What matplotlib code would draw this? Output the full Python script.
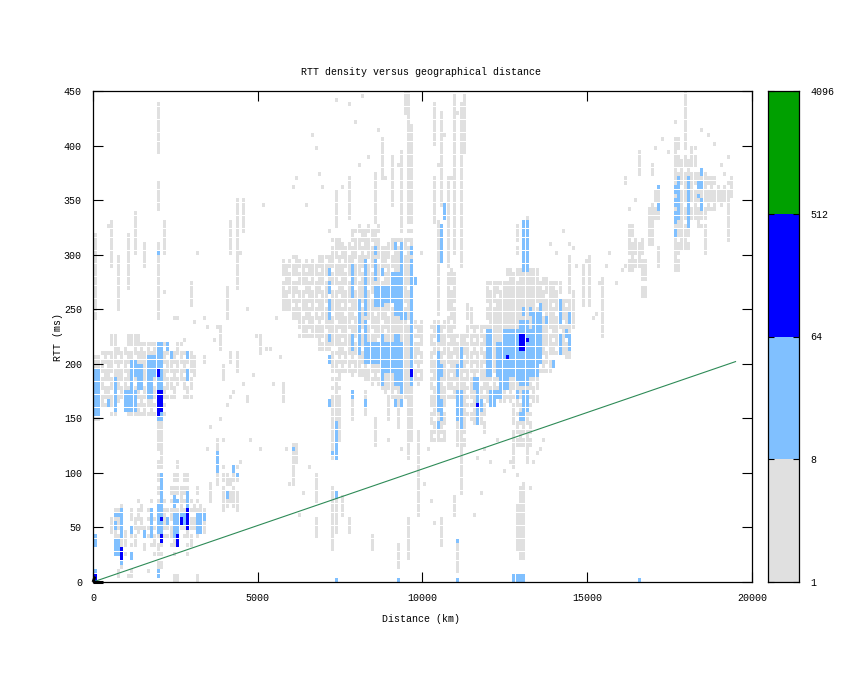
import matplotlib
matplotlib.use("Agg")
import matplotlib.pyplot as plt
import numpy as np
from matplotlib.collections import PolyCollection

plt.rcParams['font.family'] = ['Liberation Mono', 'DejaVu Sans Mono']
plt.rcParams['font.size'] = 7.2

TITLE = "RTT density versus geographical distance"
XLABEL = "Distance (km)"
YLABEL = "RTT (ms)"
X_TICKS = [0, 5000, 10000, 15000, 20000]
Y_TICKS = list(range(0, 451, 50))
BAR_TICKS = [1, 8, 64, 512, 4096]
BIN_KM = 100
BIN_MS = 4
MIN_LINE_KM = [0, 19500]
MIN_LINE_MS = [0, 202]

# (km from, km to, ms from, ms to) density regions
gray_blocks = [
    # near-range cluster, 150-230 ms
    (0,200,150,205),(200,500,160,210),(500,700,155,225),(700,1000,165,215),(1000,1400,152,228),
    (1400,2200,155,218),(2200,2500,170,210),(2500,2700,180,220),(2700,3000,170,210),(3000,3100,190,205),
    (3300,3400,200,208),(3900,4000,185,200),(4100,4200,200,212),(4300,4400,195,212),(4600,4700,165,172),
    # low-RTT cluster, column by column
    (500,600,45,60),(600,700,35,70),(700,800,20,65),(800,900,15,70),(900,1000,25,45),(1100,1200,25,65),(1200,1300,35,60),
    (1300,1400,45,75),(1400,1500,50,70),(1500,1600,30,55),(1600,1700,40,65),(1700,1800,30,75),(1800,1900,25,60),
    (1900,2000,10,115),(2000,2100,15,120),(2100,2200,40,80),(2200,2300,40,65),(2300,2400,35,90),(2400,2500,25,100),
    (2500,2600,30,110),(2600,2700,50,85),(2700,2800,40,100),(2800,2900,25,100),(2900,3000,35,80),(3000,3100,50,70),
    (3100,3200,40,85),(3200,3300,45,70),(3300,3400,45,70),(1950,2050,120,150),(3700,3800,90,130),(3900,4000,65,105),
    (4000,4100,70,100),(4100,4200,75,95),(4200,4300,70,100),(4300,4400,65,105),(3500,3600,72,90),(6000,6100,90,125),
    (6700,6800,75,100),(2400,2500,0,8),(2500,2600,0,5),(3100,3200,0,6),(1100,1200,5,12),(700,800,5,10),
    # mid-range cluster
    (5700,6000,250,295),(6000,6200,240,300),(6200,6800,225,295),(6800,7200,215,300),(7200,7500,175,315),(7500,7800,195,310),
    (7800,8200,190,325),(8200,8700,180,325),(8700,9000,175,310),(9000,9700,170,315),(9700,10000,180,240),
    (7200,7300,115,170),(7300,7400,120,170),(7400,7500,130,185),(7800,7900,150,170),(8200,8300,155,175),(8500,8600,125,150),
    (8900,9000,150,170),(9200,9300,140,172),(9500,9600,115,175),(9600,9700,130,175),(9800,9900,60,140),
    (6700,6800,40,60),(7200,7300,30,85),(7300,7400,45,80),(7500,7600,60,78),(7700,7800,45,58),(9500,9600,20,60),
    (9200,9300,15,35),(8400,8500,30,42),(10500,10600,35,60),
    # far-range cluster
    (10200,10700,130,240),(10700,11000,165,285),(11000,11300,125,225),(11300,11500,150,255),(11500,11900,145,235),
    (11900,12500,165,275),(12500,13500,165,285),(13500,13900,195,280),(13900,14200,210,275),(14200,14500,205,260),
    (12700,13300,125,165),(11100,11200,80,125),(10900,11000,60,80),(11800,11900,135,150),(12900,13100,20,85),
    (12700,12800,105,125),(13100,13200,110,125),(11000,11100,10,35),(12800,12900,30,70),
    (10400,10500,245,330),(10300,10400,330,370),(10500,10600,345,430),(10700,10800,290,370),(10900,11000,300,445),
    (11100,11200,290,440),(11200,11300,395,445),(9500,9600,320,450),(9600,9700,320,420),(9300,9400,320,395),(9000,9100,345,390),
    (8500,8600,330,375),(8700,8800,370,405),(9400,9500,430,450),(10300,10400,400,440),(7700,7800,335,370),
    (7300,7400,325,360),(13100,13200,285,335),(12800,12900,300,325),(14400,14500,265,300),(14500,14600,235,265),
    # long-range cluster
    (15000,15100,255,300),(15400,15500,225,280),(14800,14900,255,290),(16200,16400,285,325),(16400,16700,290,315),
    (16600,16800,260,295),(16800,17000,310,345),(17000,17200,335,360),(17600,17800,285,405),(17800,18100,305,385),
    (18100,18300,330,400),(18300,18600,325,375),(18600,18900,340,370),(18900,19200,345,362),(19200,19300,315,368),
    (19300,19400,355,368),(17100,17200,290,305),(17900,18000,385,450),(18500,18600,300,322),(16500,16600,375,395),
    (16100,16200,365,372),(16900,17000,375,383),
    # lone upper columns
    (0,100,240,320),(1900,2000,395,440),(1900,2000,340,365),(1900,2000,240,310),(500,600,290,330),
    (700,800,250,300),(1000,1100,270,320),(1200,1300,300,340),(4100,4200,300,330),(4300,4400,270,350),
    (4500,4600,320,350),(4000,4100,240,270),(3800,3900,215,235),(2100,2200,300,330),(1500,1600,290,310),
    (2900,3000,255,275),(5700,5800,165,180),(5000,5100,210,225),(6100,6200,110,125),
]

# blank cells: (ms, [km/100 ...]) rows
hole_rows = [
    (324,[78,79,81,82,84,85,87,88,90,91,92,94,95,96]),(316,[75,76,79,80,83,86,87,89,91,93,96]),(308,[64,66,69,70,72,76,78,81,84,87,88,92,95,105,128]),
    (300,[61,63,66,68,71,74,77,80,82,85,90,94,97,125,127,131,133,135,138]),(292,[58,60,63,65,67,70,73,75,79,83,86,89,120,122,124,126,129,134,137,140]),
    (284,[59,62,64,68,71,72,76,78,81,84,88,90,107,109,118,121,123,127,136,139,141]),(276,[57,60,61,65,67,70,74,77,80,87,92,119,125,128,135,138,142]),
    (268,[58,62,63,66,69,72,73,76,79,83,88,95,108,112,116,120,123,136,140,143]),(260,[59,61,64,68,71,74,78,84,91,96,110,113,115,118,122,137,141]),
    (252,[60,62,65,67,70,75,77,81,86,90,94,106,109,111,114,119,121,134,139,143]),(244,[63,66,68,72,76,79,82,85,89,97,99,103,107,112,116,118,136,140,144]),
    (236,[64,67,69,73,78,83,87,95,98,102,105,108,113,115,117,119,137,142]),(228,[62,65,70,74,77,81,84,88,97,100,102,106,109,114,116,118,120,138,141]),
    (220,[69,71,75,79,80,86,92,97,98,101,103,107,110,113,115,117,119,139,143]),(212,[72,73,76,78,81,85,89,99,102,105,108,111,114,116,118,135,137,140]),
    (204,[73,75,77,79,82,84,98,100,103,106,109,112,115,117,119,136,138,141,142]),(196,[74,76,78,81,83,87,97,99,101,104,107,110,113,115,118,135,137]),
    (188,[72,73,75,77,79,84,86,98,102,105,108,112,114,116,119,121,134,135]),(180,[72,74,76,77,78,80,82,83,85,97,99,103,106,109,113,115,117,120,122,131,133]),
    (172,[72,74,75,77,78,79,81,84,86,87,89,91,93,99,102,107,108,113,116,118,120,123,125,127,132,134]),(164,[107,108,109,113,114,116,118,120,122,125,127,129,132]),
    (156,[102,106,108,113,114,116,119,121,124,126,128,132]),(148,[103,105,107,109,113,116,118,120,122,124,126,128,130,132]),(140,[102,104,106,109,113,117,119,121,123,125,127,129,131]),
    (132,[103,105,107,109,112,114,116,118,120,122,124,126,128,130,132]),
    (212,[3,5,8,10,11,13,15,17,19,21,24,26,28,29]),(204,[2,4,7,9,12,16,18,22,23,25,27]),(196,[3,6,8,10,14,17,20,21,24,26,28]),(188,[2,5,9,13,16,19,22,23,25,27,29]),
    (180,[3,4,8,10,12,15,18,21,24,26,28]),(172,[2,5,7,9,11,14,17,20,22,23,25,27,29]),(164,[3,4,6,8,10,13,15,18,21,22,24]),(156,[2,3,5,7,8,9,10,14,16,18,21]),
    (68,[6,13,17,19,21,23,25,27,29,31,33]),(60,[5,7,12,14,16,18,22,24,27,29,30,32]),(52,[6,11,13,15,16,18,20,23,26,31]),(44,[7,11,12,16,18,19,21,22,24,27,29,31]),
    (36,[6,7,11,15,17,19,20,23,25,28]),(28,[8,9,11,12,17,18,20,24,25,28]),(20,[7,9,11,19,20,24]),(76,[19,21,23,24,25,27,28,29,31]),(88,[19,20,23,24,25,27,28,39,42,43]),
    (100,[19,20,23,24,25,27,28,37,39,40,43]),(112,[19,37]),(84,[40,41,43]),(360,[178,180,182,184,186,188,190,192]),(344,[177,179,181,183,185,187,189,191,168,170]),
    (328,[176,179,181,182,184,185]),(376,[177,179,181,182,184]),(392,[177,179,180,182]),(312,[163,165,167,177,180]),(296,[162,164,166,177,179]),(272,[166,167]),
]

# lone gray cells (km/100, ms)
lone_km = [4,12,25,30,34,44,46,52,54,55,58,60,61,64,66,67,68,73,75,77,79,81,83,86,88,92,94,99,100,101,102,103,
           104,106,108,110,112,114,116,118,120,122,124,126,128,130,132,134,136,144,146,148,150,152,154,155,156,158,160,161,162,164,
           170,172,174,176,184,186,188,190,191,192,193,33,36,37,38,40,41,42,45,47,48,49,50,53,56,57,59,62,63,65,
           10,16,21,24,27,31,34,35,39,44,51,69,71,80,85,89,93,98,109,115,117,133,135,138,140,142,145,149,151,153]
lone_ms = [325,310,240,238,232,300,250,215,180,240,120,362,370,345,410,396,372,440,360,438,420,444,390,412,368,380,440,300,90,120,
           75,52,380,410,368,430,416,160,112,120,110,130,100,108,98,90,84,118,130,310,290,288,260,246,270,290,300,275,285,290,340,350,
           398,405,392,420,415,410,400,382,372,390,368,240,220,235,150,160,170,175,182,130,190,225,120,215,205,180,90,60,80,105,
           5,10,265,240,220,300,120,140,130,110,345,360,320,380,345,130,120,100,70,60,80,110,120,310,300,320,305,295,240,275,270,330]

light_blue_blocks = [
    (0,200,153,195),(100,200,175,182),(400,500,160,168),(600,700,158,187),(900,1300,158,176),(1100,1300,190,203),
    (1100,1200,176,187),(1300,1500,176,197),(1600,1900,191,205),(1600,1800,170,185),(1900,2100,150,218),(2800,2900,205,210),
    (2800,2900,187,195),(2300,2400,205,210),(2200,2300,214,218),(1900,2000,300,304),
    (800,900,63,68),(600,900,60,63),(800,900,42,60),(600,700,50,54),(600,800,26,38),(800,900,17,23),(1100,1200,45,49),
    (1100,1200,22,26),(0,100,33,42),(1700,1800,42,68),(1500,1600,42,48),(1900,2100,45,72),(2000,2100,72,100),(1900,2000,5,10),
    (2400,2500,70,80),(2500,2600,72,76),(2400,2600,42,63),(2600,2900,53,63),(2800,2900,48,83),(3100,3300,45,63),(3300,3400,57,63),
    (2200,2300,53,60),(3700,3800,101,119),(4200,4300,103,107),(4300,4400,97,100),(4000,4100,78,82),(6000,6100,120,124),
    (7200,7300,116,120),(7300,7400,115,148),(7300,7400,78,82),(0,100,5,12),
    (7100,7200,283,287),(7100,7200,266,275),(7100,7200,242,260),(7100,7200,221,225),(7100,7200,202,206),(7100,7200,160,167),
    (7800,7900,283,290),(7800,7900,262,278),(7800,7900,212,225),(7800,7900,170,174),(8000,8100,220,260),(8000,8100,210,218),
    (8200,8300,275,293),(8200,8300,245,272),(8200,8300,222,238),(8200,8500,200,218),(8200,8300,160,167),(8500,8600,277,293),
    (8500,8800,252,272),(8500,8800,200,217),(8500,8600,300,305),(8700,8800,283,287),(8700,8800,217,225),(8800,9400,192,218),
    (8700,8800,182,197),(9100,9400,180,191),(9300,9400,174,180),(9100,9400,246,272),(9100,9400,274,281),(9300,9400,283,301),
    (9100,9200,306,310),(9300,9400,306,310),(9300,9500,240,246),(9100,9300,220,225),(8850,9100,257,269),(9000,9100,274,284),
    (9600,9700,192,293),(9600,9700,303,307),(9700,9800,274,278),(9600,9700,180,190),(9300,9400,160,165),(9100,9200,163,167),
    (14100,14200,251,260),(14100,14200,237,248),(14100,14200,211,226),(14400,14500,237,245),(14300,14400,227,231),(14400,14500,223,227),
    (14400,14500,214,218),(13900,14000,198,202),(13700,13800,239,243),(13500,13600,246,254),(13300,13550,231,246),(12900,13150,231,238),
    (13000,13100,247,251),(13200,13300,245,249),(12400,13550,200,229),(11900,12100,191,229),(12200,12550,188,219),(12600,13450,191,209),
    (12900,13200,182,191),(12300,12550,179,188),(12800,12900,184,188),(11500,11700,179,188),(11600,11700,171,179),(13000,13150,156,174),
    (12900,13050,150,156),(12800,12900,171,175),(12300,12400,168,176),(12000,12150,162,176),(12200,12300,168,174),(11600,11800,156,168),
    (11600,11700,147,156),(11100,11200,199,214),(11000,11100,190,197),(11000,11200,148,176),(11100,11200,140,145),(10400,10500,230,234),
    (10400,10500,223,227),(10400,10500,191,209),(10500,10600,190,197),(10400,10500,156,188),(10500,10600,158,165),(10500,10600,151,155),
    (10400,10500,143,147),(10500,10600,295,327),(10600,10700,332,345),(13000,13200,284,331),
    (11000,11100,0,4),(11000,11100,36,40),(12700,13100,0,5),(7300,7400,0,3),(9200,9300,0,4),(16500,16600,0,3),
    (17100,17200,360,364),(17100,17200,342,347),(17600,17700,357,361),(17600,17700,345,349),(17600,17700,330,338),(17600,17700,317,321),
    (17700,17800,358,371),(17700,17800,338,356),(17700,17800,332,336),(18000,18100,367,371),(18000,18100,336,364),(18000,18100,327,335),
    (18300,18400,361,366),(18300,18400,352,356),(18400,18500,374,378),(18400,18500,363,367),(18400,18500,345,350),(18400,18500,341,345),
]

blue_blocks = [
    (0,100,0,5),(800,900,23,32),(1900,2000,190,195),(1900,2100,158,175),(1900,2000,153,156),(2000,2100,57,60),(2000,2100,39,44),
    (2500,2600,35,41),(2800,2900,48,66),(2600,2700,55,58),(9600,9700,190,195),(12900,13050,220,228),(13050,13150,220,224),
    (12900,13050,215,219),(12500,12600,204,208),(11600,11700,160,164),
]

level_colors = ['#e0e0e0', '#80c0ff', '#0000ff', '#00a000']
bar_colors = level_colors

n_cols, n_rows = int(20000 / BIN_KM), int(450 / BIN_MS) + 1
grid = np.zeros((n_rows, n_cols), dtype=int)


def paint(blocks, level):
    for d0, d1, r0, r1 in blocks:
        c0, c1 = int(d0 // BIN_KM), int(np.ceil(d1 / BIN_KM))
        j0, j1 = int(r0 // BIN_MS), max(int(np.ceil(r1 / BIN_MS)), int(r0 // BIN_MS) + 1)
        grid[j0:j1, c0:c1] = level


paint(gray_blocks, 1)
for ms, cols_ in hole_rows:
    for c in cols_:
        grid[ms // BIN_MS, c] = 0
for c, ms in zip(lone_km, lone_ms):
    grid[ms // BIN_MS, c] = 1
paint(light_blue_blocks, 2)
paint(blue_blocks, 3)

fig = plt.figure(figsize=(8.45, 6.73), dpi=100)
W, H = 845, 673
ax = fig.add_axes([93 / W, (H - 582) / H, 659 / W, 491 / H])

# cells are drawn slightly narrower than their bin so they land on whole pixels
cw, ch = BIN_KM * 3 / 3.295, BIN_MS * 4 / 4.364
verts, cols = [], []
for j, c in zip(*np.nonzero(grid)):
    x0, y0 = (c * BIN_KM) + 30, j * BIN_MS
    verts.append([(x0, y0), (x0 + cw, y0), (x0 + cw, y0 + ch), (x0, y0 + ch)])
    cols.append(level_colors[grid[j, c] - 1])
ax.add_collection(PolyCollection(verts, facecolors=cols, edgecolors='none', antialiaseds=False, zorder=1))

ax.plot(MIN_LINE_KM, MIN_LINE_MS, color='#2e8b57', lw=0.8, zorder=3)
ax.plot([0, 300], [0, 0], color='black', lw=2.2, zorder=4, clip_on=False, solid_capstyle='butt')
ax.plot([0, 60], [0, 5], color='black', lw=2.0, zorder=4, clip_on=False, solid_capstyle='butt')

ax.set_xlim(0, 20000)
ax.set_ylim(0, 450)
ax.set_xticks(X_TICKS)
ax.set_yticks(Y_TICKS)
ax.tick_params(direction='in', length=7.2, width=0.8, top=True, right=True, labelsize=7.2)
ax.tick_params(axis='x', pad=8)
ax.tick_params(axis='y', pad=8)
for s in ax.spines.values():
    s.set_linewidth(0.9)
fig.text(421 / W, 1 - 72 / H, TITLE, ha='center', va='center')
fig.text(421 / W, 1 - 619 / H, XLABEL, ha='center', va='center')
fig.text(58 / W, 1 - 337 / H, YLABEL, ha='center', va='center', rotation=90)

cax = fig.add_axes([768 / W, (H - 582) / H, 31 / W, 491 / H])
cax.set_xlim(0, 1)
cax.set_yscale('log', base=2)
cax.set_ylim(BAR_TICKS[0], BAR_TICKS[-1])
for lo, hi, col in zip(BAR_TICKS[:-1], BAR_TICKS[1:], bar_colors):
    cax.axhspan(lo, hi, color=col, lw=0, zorder=1)
cax.set_xticks([])
cax.set_yticks(BAR_TICKS)
cax.set_yticklabels([str(t) for t in BAR_TICKS])
cax.minorticks_off()
cax.tick_params(axis='y', direction='in', length=4.3, width=0.8, left=True, right=True,
                labelleft=False, labelright=True, pad=8, labelsize=7.2)
for s in cax.spines.values():
    s.set_linewidth(0.9)

fig.savefig('out.png', dpi=100)
